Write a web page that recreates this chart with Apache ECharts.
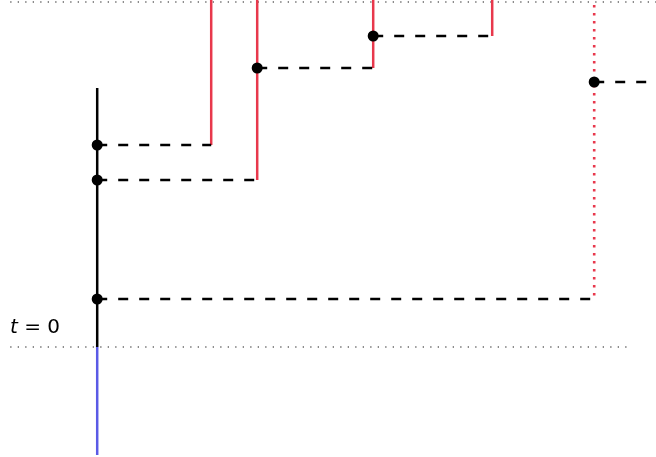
<!DOCTYPE html>
<html>
<head>
<meta charset="utf-8">
<script src="https://cdn.jsdelivr.net/npm/echarts@6/dist/echarts.min.js"></script>
<style>html,body{margin:0;padding:0;background:#fff}#c{width:656px;height:457px}</style>
</head>
<body>
<div id="c"></div>
<script>
// Diagram values (x: space units, y: time units, t = 0 at y = 0)
const xRange = [-0.972, 5.588];
const tRange = [-1.10, 3.47];
const worldline = [[0, 2.59], [0, 0]];          // black
const pastLine = [[0, 0], [0, -1.08]];          // blue
const redX = [1.14, 1.60, 2.76, 3.95];          // red vertical lines
const redBottom = [2.02, 1.67, 2.79, 3.11];
const redTop = 3.47;
const events = [[0, 2.02], [0, 1.67], [0, 0.48], [1.60, 2.79], [2.76, 3.11], [4.97, 2.65]];
const dashed = [
  [[0, 2.02], [1.14, 2.02]],
  [[0, 1.67], [1.60, 1.67]],
  [[0, 0.48], [4.97, 0.48]],
  [[1.60, 2.79], [2.76, 2.79]],
  [[2.76, 3.11], [3.95, 3.11]],
  [[4.97, 2.65], [5.59, 2.65]]
];
const redDotted = [[4.97, 3.42], [4.97, 0.48]];
const grayDotted = [
  [[-0.87, 3.45], [5.59, 3.45]],
  [[-0.87, 0], [5.35, 0]]
];

const series = [];
function seg(data, color, width, type, z) {
  series.push({type: 'line', data: data, symbol: 'none', silent: true, z: z,
    lineStyle: {color: color, width: width, type: type, cap: 'butt'}});
}
grayDotted.forEach(d => seg(d, '#666', 1.3, [1.3, 6.2], 1));
redX.forEach((x, i) => seg([[x, redTop], [x, redBottom[i]]], '#e8384c', 2.5, 'solid', 3));
seg(redDotted, '#e8384c', 2.6, [2.6, 5.4], 3);
dashed.forEach(d => seg(d, '#000', 2.5, [10, 11], 4));
seg(worldline, '#000', 2.5, 'solid', 5);
seg(pastLine, '#5a5ae6', 2.5, 'solid', 5);
series.push({type: 'scatter', data: events, symbol: 'circle', symbolSize: 11,
  itemStyle: {color: '#000', opacity: 1}, z: 10, silent: true});

const chart = echarts.init(document.getElementById('c'));
chart.setOption({
  animation: false,
  grid: {left: 0, right: 0, top: 0, bottom: 0},
  xAxis: {type: 'value', min: xRange[0], max: xRange[1], show: false},
  yAxis: {type: 'value', min: tRange[0], max: tRange[1], show: false},
  series: series,
  graphic: [{
    type: 'text', left: 10, top: 318,
    style: {
      text: '{i|t} = 0',
      rich: {i: {fontStyle: 'italic', fontFamily: 'DejaVu Sans', fontSize: 20, fill: '#000'}},
      fontFamily: 'DejaVu Sans', fontSize: 20, fill: '#000'
    }
  }]
});
</script>
</body>
</html>
